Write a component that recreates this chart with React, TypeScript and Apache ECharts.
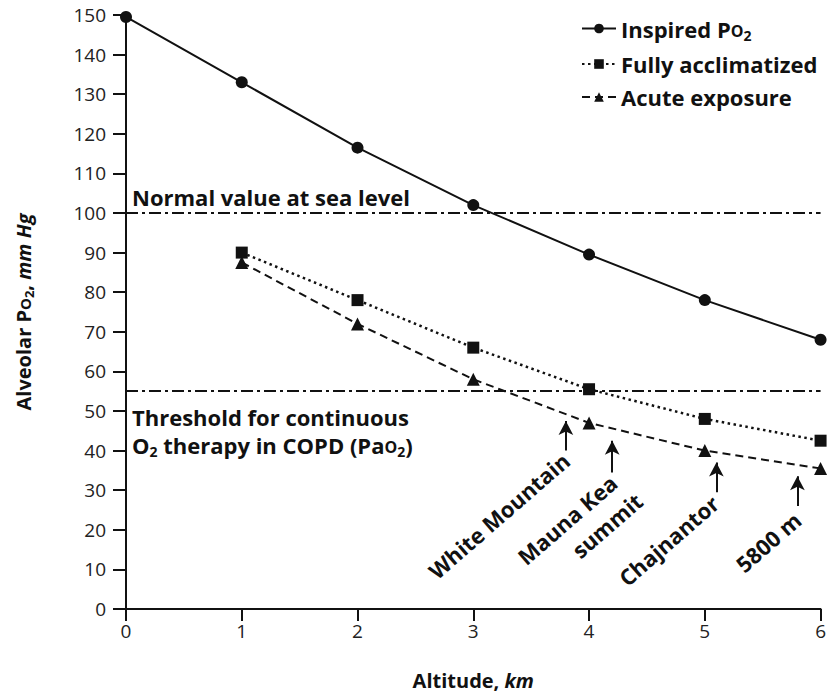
import React, { useEffect, useRef } from "react";
import * as echarts from "echarts";

const FONT = '"Open Sans", "Noto Sans", sans-serif';
const INK = "#111";

// Data
const altitudeKm = [0, 1, 2, 3, 4, 5, 6];
const inspiredPO2 = [149.5, 133, 116.5, 102, 89.5, 78, 68];
const fullyAcclimatized = [null, 90, 78, 66, 55.5, 48, 42.5];
const acuteExposure = [null, 87.5, 72, 58, 47, 40, 35.5];
const normalSeaLevel = 100;
const copdThreshold = 55;
const yTicks = [0, 10, 20, 30, 40, 50, 60, 70, 80, 90, 100, 110, 120, 130, 140, 150];
const xTicks = [0, 1, 2, 3, 4, 5, 6];

// Site annotations (altitude in km, arrow span in mm Hg)
const siteAltitudes = [3.8, 4.2, 5.1, 5.8];
const arrowFrom = [40, 34.5, 29.5, 26];
const arrowTo = [47.5, 42.5, 37, 33.5];
const siteLabels = ["White Mountain", "Mauna Kea", "summit", "Chajnantor", "5800 m"];
const siteLabelX = [3.8, 4.21, 4.43, 5.09, 5.8];
const siteLabelY = [38.4, 32.8, 28.2, 27.6, 23.4];

function makeRich(size: number, lh: number) {
  const base = { fontFamily: FONT, fontWeight: "bold", color: INK, lineHeight: lh };
  return {
    b: { ...base, fontSize: size },
    i: { ...base, fontSize: size, fontStyle: "italic" },
    sc: { ...base, fontSize: Math.round(size * 0.74), padding: [Math.round(size * 0.18), 0, 0, 0] },
    sub: { ...base, fontSize: Math.round(size * 0.64), padding: [Math.round(size * 0.58), 0, 0, 0] },
  };
}
const rich = makeRich(22, 28);
const richY = makeRich(20, 26);
const richX = makeRich(20, 26);

const legendText: Record<string, string> = {
  "Inspired PO2": "{b|Inspired P}{sc|O}{sub|2}",
  "Fully acclimatized": "{b|Fully acclimatized}",
  "Acute exposure": "{b|Acute exposure}",
};

export default function App() {
  const ref = useRef<HTMLDivElement>(null);
  useEffect(() => {
    const chart = echarts.init(ref.current!, null, { renderer: "svg" });
    const pair = (arr: (number | null)[]) => altitudeKm.map((x, i) => [x, arr[i]]);
    chart.setOption({
      animation: false,
      backgroundColor: "#fff",
      textStyle: { fontFamily: FONT },
      grid: { left: 126, right: 7, top: 15, bottom: 83 },
      legend: {
        data: ["Inspired PO2", "Fully acclimatized", "Acute exposure"],
        orient: "vertical",
        left: 576,
        top: 10,
        itemWidth: 34,
        itemHeight: 12,
        itemGap: 11,
        formatter: (n: string) => legendText[n] || n,
        textStyle: { rich, fontSize: 22, fontWeight: "bold", color: INK },
      },
      xAxis: {
        type: "value",
        min: xTicks[0],
        max: xTicks[xTicks.length - 1],
        interval: 1,
        name: "{b|Altitude, }{i|km}",
        nameLocation: "middle",
        nameGap: 58,
        nameTextStyle: { rich: richX },
        axisLine: { show: true, lineStyle: { color: INK, width: 2 } },
        axisTick: { show: true, length: 12, lineStyle: { color: INK, width: 2 } },
        axisLabel: { fontSize: 19, color: "#222", margin: 12, fontFamily: FONT },
        splitLine: { show: false },
      },
      yAxis: {
        type: "value",
        min: yTicks[0],
        max: yTicks[yTicks.length - 1],
        interval: 10,
        name: "{b|Alveolar P}{sc|O}{sub|2}{b|, }{i|mm Hg}",
        nameLocation: "middle",
        nameGap: 90,
        nameTextStyle: { rich: richY },
        axisLine: { show: true, lineStyle: { color: INK, width: 2 } },
        axisTick: { show: true, length: 13, lineStyle: { color: INK, width: 2 } },
        axisLabel: { fontSize: 19, color: "#222", margin: 20, fontFamily: FONT },
        splitLine: { show: false },
      },
      series: [
        {
          name: "Inspired PO2",
          type: "line",
          data: pair(inspiredPO2),
          symbol: "circle",
          symbolSize: 12,
          itemStyle: { color: INK },
          lineStyle: { color: INK, width: 2 },
          markLine: {
            silent: true,
            symbol: ["none", "none"],
            lineStyle: { color: INK, width: 2, type: [12, 4, 3, 4] },
            data: [
              {
                yAxis: normalSeaLevel,
                label: {
                  show: true,
                  position: "insideStartTop",
                  distance: [6, 2],
                  formatter: "{b|Normal value at sea level}",
                  rich,
                },
              },
              {
                yAxis: copdThreshold,
                label: {
                  show: true,
                  position: "insideStartBottom",
                  distance: [6, 12],
                  formatter:
                    "{b|Threshold for continuous}\n{b|O}{sub|2}{b| therapy in COPD (Pa}{sc|O}{sub|2}{b|)}",
                  rich,
                },
              },
            ],
          },
        },
        {
          name: "Fully acclimatized",
          type: "line",
          data: pair(fullyAcclimatized),
          symbol: "rect",
          symbolSize: 12,
          itemStyle: { color: INK },
          lineStyle: { color: INK, width: 2.5, type: [2.5, 3.5] },
        },
        {
          name: "Acute exposure",
          type: "line",
          data: pair(acuteExposure),
          symbol: "triangle",
          symbolSize: 13,
          itemStyle: { color: INK },
          lineStyle: { color: INK, width: 2, type: [8, 5] },
        },
        {
          name: "sites",
          type: "scatter",
          silent: true,
          symbolSize: 0,
          itemStyle: { color: INK, opacity: 1 },
          data: siteLabels.map((n, i) => ({ name: n, value: [siteLabelX[i], siteLabelY[i]] })),
          label: {
            show: true,
            position: [0, 0],
            formatter: "{b}",
            rotate: 41,
            align: "right",
            verticalAlign: "middle",
            fontFamily: FONT,
            fontWeight: "bold",
            fontSize: 22,
            color: INK,
            opacity: 1,
            textBorderWidth: 0,
          },
          markLine: {
            silent: true,
            symbol: ["none", "arrow"],
            symbolSize: [11, 14],
            lineStyle: { color: INK, width: 2, type: "solid" },
            label: { show: false },
            data: siteAltitudes.map((x, i) => [
              { coord: [x, arrowFrom[i]] },
              { coord: [x, arrowTo[i]] },
            ]),
          },
        },
      ],
    });
    return () => chart.dispose();
  }, []);
  return (
    <div
      ref={ref}
      style={{ position: "absolute", left: 0, top: 0, width: 829, height: 695 }}
    />
  );
}
